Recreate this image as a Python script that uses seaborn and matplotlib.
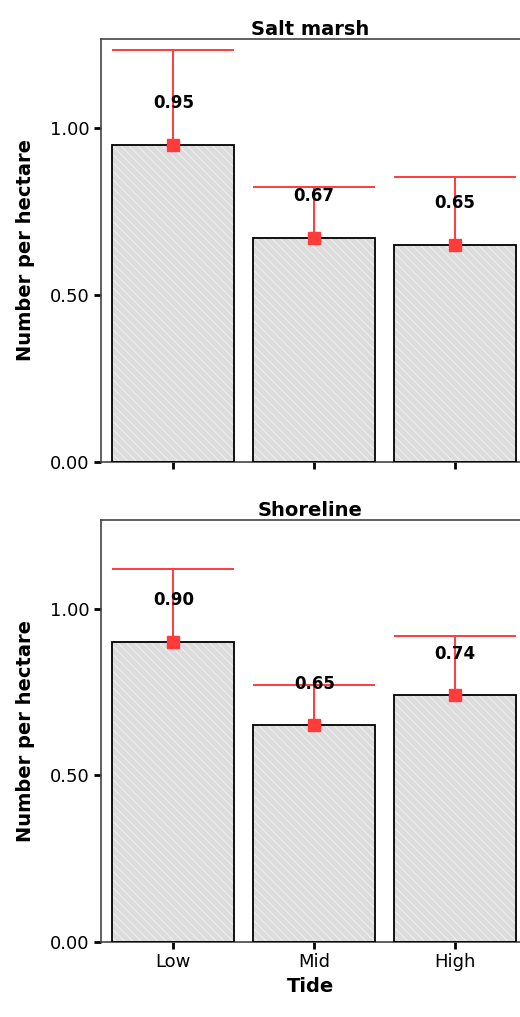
import matplotlib
matplotlib.use("Agg")
import matplotlib.pyplot as plt
import matplotlib.patches as patches
import numpy as np
import pandas as pd
import seaborn as sns

tides = ["Low", "Mid", "High"]
salt_means = [0.95, 0.67, 0.65]
salt_upper = [1.234, 0.823, 0.853]
shore_means = [0.90, 0.65, 0.74]
shore_upper = [1.12, 0.77, 0.919]

RED = "#ff3b3b"
FILL = "#dcdcdc"


def draw_panel(ax, title, means, upper, show_xlabels):
    df = pd.DataFrame({"Tide": tides, "value": means})
    sns.barplot(data=df, x="Tide", y="value", ax=ax, color=FILL,
                width=0.864, saturation=1, errorbar=None)
    # white diagonal hatch, then a black outline on top
    for p in list(ax.patches):
        p.set_facecolor(FILL)
        p.set_edgecolor("#f4f4f4")
        p.set_hatch("\\\\\\\\")
        p.set_linewidth(0)
        outline = patches.Rectangle(p.get_xy(), p.get_width(), p.get_height(),
                                    facecolor="none", edgecolor="black",
                                    linewidth=1.3, zorder=3)
        ax.add_patch(outline)

    x = np.arange(len(tides))
    m = np.array(means)
    u = np.array(upper)
    ax.vlines(x, m, u, color=RED, linewidth=1.4, zorder=4)
    ax.hlines(u, x - 0.432, x + 0.432, color=RED, linewidth=1.4, zorder=4)
    ax.plot(x, m, linestyle="none", marker="s", markersize=8,
            color=RED, zorder=5)
    for xi, mi in zip(x, m):
        ax.text(xi, mi + 0.125, f"{mi:.2f}", ha="center", va="center",
                fontsize=12, fontweight="bold", color="black", zorder=6)

    ax.set_xlim(-0.514, 2.46)
    ax.set_ylim(0, 1.266)
    ax.set_yticks([0.0, 0.5, 1.0])
    ax.set_yticklabels(["0.00", "0.50", "1.00"])
    ax.set_ylabel("Number per hectare", fontsize=14, fontweight="bold",
                  labelpad=11, color="black")
    ax.set_title(title, fontsize=14, fontweight="bold", pad=3, color="black")
    for side in ["left", "top", "bottom"]:
        ax.spines[side].set_visible(True)
        ax.spines[side].set_color("#444444")
        ax.spines[side].set_linewidth(1.2)
    ax.spines["right"].set_visible(False)
    ax.tick_params(axis="both", direction="out", length=5, width=2,
                   color="black", labelcolor="black", labelsize=13, pad=3,
                   bottom=True, left=True)
    if show_xlabels:
        ax.set_xlabel("Tide", fontsize=14, fontweight="bold", labelpad=4,
                      color="black")
    else:
        ax.set_xlabel("")
        ax.set_xticklabels([])


sns.set_theme(style="white")
plt.rcParams["font.family"] = ["DejaVu Sans"]
plt.rcParams["hatch.linewidth"] = 0.6

fig = plt.figure(figsize=(5.2, 10.17), dpi=100)
ax1 = fig.add_axes([0.194, 0.5457, 0.806, 0.416])
ax2 = fig.add_axes([0.194, 0.0737, 0.806, 0.415])

draw_panel(ax1, "Salt marsh", salt_means, salt_upper, False)
draw_panel(ax2, "Shoreline", shore_means, shore_upper, True)

fig.savefig("out.png", dpi=100)
